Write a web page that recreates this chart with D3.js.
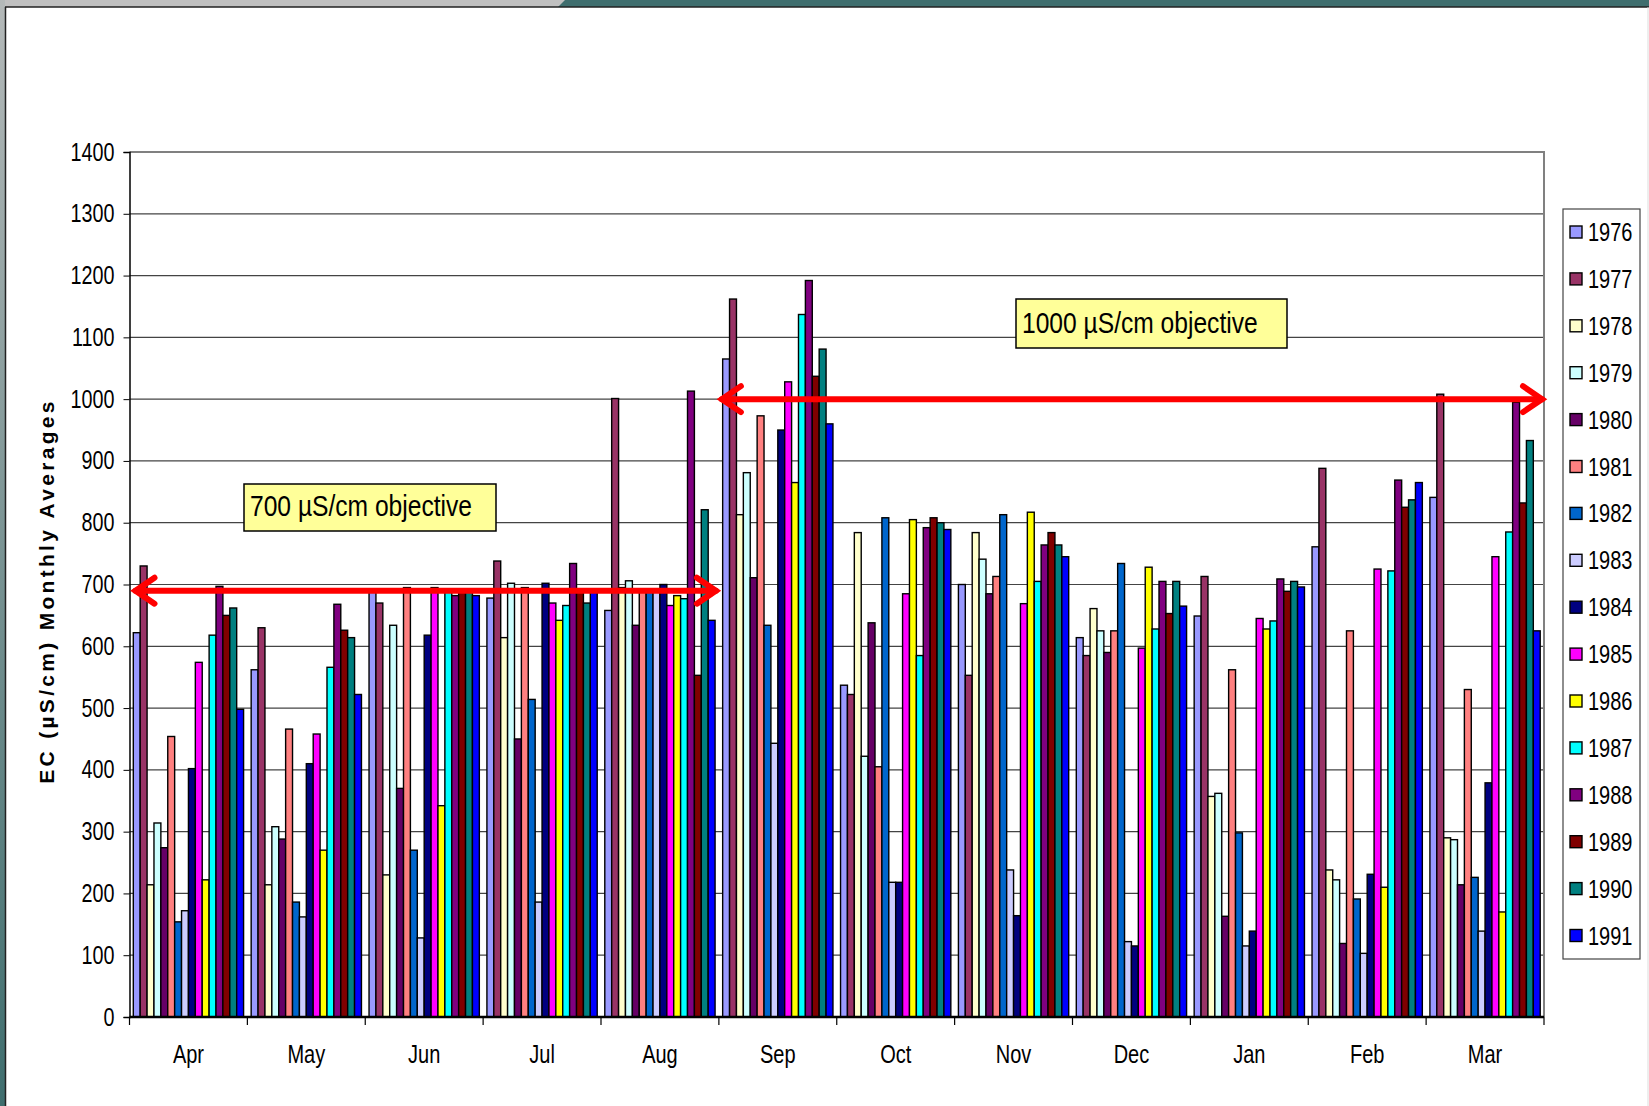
<!DOCTYPE html>
<html>
<head>
<meta charset="utf-8">
<script src="https://cdn.jsdelivr.net/npm/d3@7"></script>
<style>
  body { margin: 0; background: #fff; }
  text { font-family: "Liberation Sans Narrow", "Arial Narrow", "Liberation Sans", Arial, sans-serif; }
</style>
</head>
<body>
<div id="canvas-area"></div>
<script>
//data
let months = ["Apr", "May", "Jun", "Jul", "Aug", "Sep", "Oct", "Nov", "Dec", "Jan", "Feb", "Mar"];
let years = ["1976", "1977", "1978", "1979", "1980", "1981", "1982", "1983",
             "1984", "1985", "1986", "1987", "1988", "1989", "1990", "1991"];
let yTicks = [0, 100, 200, 300, 400, 500, 600, 700, 800, 900, 1000, 1100, 1200, 1300, 1400];

let ec1976 = [622, 562, 690, 678, 658, 1065, 537, 700, 614, 649, 761, 841];
let ec1977 = [730, 630, 670, 738, 1001, 1162, 522, 553, 585, 713, 888, 1008];
let ec1978 = [214, 214, 230, 614, 695, 813, 784, 784, 661, 357, 238, 290];
let ec1979 = [314, 308, 634, 702, 706, 881, 422, 741, 625, 362, 222, 287];
let ec1980 = [274, 288, 370, 450, 634, 711, 638, 685, 590, 163, 119, 214];
let ec1981 = [454, 466, 695, 695, 690, 973, 405, 713, 625, 562, 625, 530];
let ec1982 = [154, 186, 270, 514, 690, 634, 808, 813, 734, 298, 191, 226];
let ec1983 = [172, 162, 128, 186, 690, 443, 218, 238, 122, 115, 103, 139];
let ec1984 = [402, 410, 618, 702, 700, 950, 218, 164, 115, 139, 231, 379];
let ec1985 = [574, 458, 695, 670, 666, 1028, 685, 669, 597, 645, 725, 745];
let ec1986 = [222, 270, 342, 642, 682, 865, 805, 817, 728, 628, 210, 170];
let ec1987 = [618, 566, 690, 666, 677, 1137, 585, 705, 628, 641, 722, 785];
let ec1988 = [697, 668, 682, 734, 1013, 1192, 792, 764, 705, 709, 869, 995];
let ec1989 = [650, 626, 688, 690, 553, 1037, 808, 784, 653, 689, 825, 832];
let ec1990 = [662, 614, 690, 670, 821, 1081, 800, 764, 705, 705, 837, 933];
let ec1991 = [498, 522, 682, 690, 642, 960, 789, 745, 665, 696, 865, 625];

let seriesList = [ec1976, ec1977, ec1978, ec1979, ec1980, ec1981, ec1982, ec1983,
                  ec1984, ec1985, ec1986, ec1987, ec1988, ec1989, ec1990, ec1991];

let yearColors = ["#9999FF", "#993366", "#FFFFCC", "#CCFFFF", "#660066", "#FF8080", "#0066CC", "#CCCCFF",
                  "#000080", "#FF00FF", "#FFFF00", "#00FFFF", "#800080", "#800000", "#008080", "#0000FF"];

//objective arrows: value, first month, month after last
let objectiveLabels = ["700 µS/cm objective", "1000 µS/cm objective"];
let objectiveValues = [690, 1000];
let objectiveFrom = ["Apr", "Sep"];
let objectiveTo = ["Sep", null];

//build canvas
let width = 1649;
let height = 1106;
let plotLeft = 129.5;
let plotRight = 1544;
let plotTop = 152;
let plotBottom = 1017;

var canvas = d3.select("#canvas-area")
        .append("svg")
        .attr("width", width)
        .attr("height", height);

//squeeze text horizontally, no narrow font installed
function narrow(sel, ratio){
  sel.each(function(){
    let len = this.getComputedTextLength();
    d3.select(this).attr("textLength", len * ratio).attr("lengthAdjust", "spacingAndGlyphs");
  });
}

//slide frame
let defs = canvas.append("defs");
let grad = defs.append("linearGradient").attr("id", "leftGrad")
        .attr("x1", 0).attr("y1", 0).attr("x2", 0).attr("y2", 1);
grad.append("stop").attr("offset", "0%").attr("stop-color", "#b4b9b9");
grad.append("stop").attr("offset", "100%").attr("stop-color", "#3f6e6e");

canvas.append("rect").attr("x", 0).attr("y", 0).attr("width", width).attr("height", height).attr("fill", "#fff");
canvas.append("rect").attr("x", 0).attr("y", 0).attr("width", width).attr("height", 7).attr("fill", "#c0c0c0");
canvas.append("polygon")
        .attr("points", "558,7 565,0 " + width + ",0 " + width + ",7")
        .attr("fill", "#3f6e6e");
canvas.append("rect").attr("x", 0).attr("y", 0).attr("width", 5).attr("height", height).attr("fill", "url(#leftGrad)");
canvas.append("line").attr("x1", 5).attr("y1", 7).attr("x2", width).attr("y2", 7)
        .attr("stroke", "#222").attr("stroke-width", 1.5);
canvas.append("line").attr("x1", 5.5).attr("y1", 7).attr("x2", 5.5).attr("y2", height)
        .attr("stroke", "#222").attr("stroke-width", 1.5);
canvas.append("line").attr("x1", width - 1).attr("y1", 7).attr("x2", width - 1).attr("y2", height)
        .attr("stroke", "#ddd").attr("stroke-width", 1);

//scales
let y = d3.scaleLinear().domain([0, 1400]).range([plotBottom, plotTop]);
let x0 = d3.scaleBand().domain(months).range([plotLeft, plotRight]).padding(0);
let x1 = d3.scaleBand().domain(years).range([0, x0.bandwidth()]).paddingInner(0).paddingOuter(0.55);

//gridlines
canvas.append("g")
    .selectAll("line")
    .data(yTicks.filter(d => d > 0 && d < 1400))
    .enter().append("line")
    .attr("x1", plotLeft).attr("x2", plotRight)
    .attr("y1", d => y(d)).attr("y2", d => y(d))
    .attr("stroke", "#444").attr("stroke-width", 1.2);

//plot border top + right (grey)
canvas.append("path")
    .attr("d", "M" + plotLeft + "," + y(1400) + "H" + plotRight + "V" + plotBottom)
    .attr("fill", "none").attr("stroke", "#808080").attr("stroke-width", 2);

//bars
let barData = [];
for(let m=0; m<months.length; m++){
  for(let s=0; s<years.length; s++){
    barData.push({month: months[m], year: years[s], value: seriesList[s][m], color: yearColors[s]});
  }
}

canvas.append("g")
    .selectAll("rect")
    .data(barData)
    .enter().append("rect")
    .attr("x", d => x0(d.month) + x1(d.year))
    .attr("y", d => y(d.value))
    .attr("width", x1.bandwidth())
    .attr("height", d => y(0) - y(d.value))
    .attr("fill", d => d.color)
    .attr("stroke", "#000")
    .attr("stroke-width", 1.4);

//y axis
let yAxis = d3.axisLeft(y).tickValues(yTicks).tickFormat(d3.format("d")).tickSize(6).tickPadding(9);
let yAxisG = canvas.append("g")
    .attr("transform", "translate(" + plotLeft + ",0)")
    .call(yAxis);
yAxisG.select(".domain").attr("stroke", "#000").attr("stroke-width", 1.5);
yAxisG.selectAll(".tick line").attr("stroke", "#000");
yAxisG.selectAll(".tick text")
    .style("font-family", "'Liberation Sans', Arial, sans-serif")
    .style("font-size", "25px")
    .attr("fill", "#000")
    .call(narrow, 0.79);

//x axis - ticks at month boundaries
let xAxisG = canvas.append("g").attr("transform", "translate(0," + plotBottom + ")");
xAxisG.append("line").attr("x1", plotLeft).attr("x2", plotRight)
    .attr("stroke", "#000").attr("stroke-width", 2.5);
let boundaries = months.map(m => x0(m)).concat([plotRight]);
xAxisG.selectAll(".bound")
    .data(boundaries)
    .enter().append("line")
    .attr("class", "bound")
    .attr("x1", d => d).attr("x2", d => d)
    .attr("y1", 0).attr("y2", 8)
    .attr("stroke", "#000").attr("stroke-width", 1.2);
xAxisG.selectAll(".mlabel")
    .data(months)
    .enter().append("text")
    .attr("class", "mlabel")
    .attr("x", d => x0(d) + x0.bandwidth() / 2)
    .attr("y", 46)
    .attr("text-anchor", "middle")
    .style("font-size", "25px")
    .text(d => d)
    .call(narrow, 0.8);

//y axis title
canvas.append("text")
    .attr("transform", "translate(54,591) rotate(-90)")
    .attr("text-anchor", "middle")
    .style("font-family", "'Liberation Sans', Arial, sans-serif")
    .style("font-weight", "bold")
    .style("font-size", "21px")
    .style("letter-spacing", "3.3px")
    .text("EC (µS/cm) Monthly Averages");

//objective arrows
function drawArrow(xStart, xEnd, yPos){
  let g = canvas.append("g")
      .attr("stroke", "#FF0000")
      .attr("stroke-width", 6)
      .attr("stroke-linecap", "round")
      .attr("fill", "none");
  g.append("line").attr("x1", xStart + 3).attr("x2", xEnd - 3).attr("y1", yPos).attr("y2", yPos);
  g.append("path").attr("d", "M" + (xStart + 22) + "," + (yPos - 13) + "L" + (xStart + 3) + "," + yPos + "L" + (xStart + 22) + "," + (yPos + 13));
  g.append("path").attr("d", "M" + (xEnd - 22) + "," + (yPos - 13) + "L" + (xEnd - 3) + "," + yPos + "L" + (xEnd - 22) + "," + (yPos + 13));
}

for(let i=0; i<objectiveValues.length; i++){
  let xs = i == 0 ? plotLeft + 3 : x0(objectiveFrom[i]);
  let xe = objectiveTo[i] ? x0(objectiveTo[i]) : plotRight + 1;
  drawArrow(xs, xe, y(objectiveValues[i]));
}

//objective label boxes
let boxX = [244, 1016];
let boxY = [484, 299];
let boxW = [252, 271];
let boxH = [47, 49];
for(let i=0; i<objectiveLabels.length; i++){
  canvas.append("rect")
      .attr("x", boxX[i]).attr("y", boxY[i])
      .attr("width", boxW[i]).attr("height", boxH[i])
      .attr("fill", "#FFFF99").attr("stroke", "#000").attr("stroke-width", 1.5);
  canvas.append("text")
      .attr("x", boxX[i] + 6)
      .attr("y", boxY[i] + boxH[i] - 15)
      .style("font-family", "'Liberation Sans', Arial, sans-serif")
      .style("font-size", "30px")
      .text(objectiveLabels[i])
      .call(narrow, 0.82);
}

//legend
let legend = canvas.append("g");
legend.append("rect")
    .attr("x", 1563).attr("y", 209).attr("width", 77).attr("height", 750)
    .attr("fill", "#fff").attr("stroke", "#444").attr("stroke-width", 1.2);
let legendItems = legend.selectAll(".item")
    .data(years)
    .enter().append("g")
    .attr("class", "item")
    .attr("transform", (d, i) => "translate(1570," + (232 + i * 46.9) + ")");
legendItems.append("rect")
    .attr("x", 0).attr("y", -6).attr("width", 12).attr("height", 12)
    .attr("fill", (d, i) => yearColors[i])
    .attr("stroke", "#000").attr("stroke-width", 1.4);
legendItems.append("text")
    .attr("x", 18).attr("y", 9)
    .style("font-size", "25px")
    .text(d => d)
    .call(narrow, 0.8);
</script>
</body>
</html>
